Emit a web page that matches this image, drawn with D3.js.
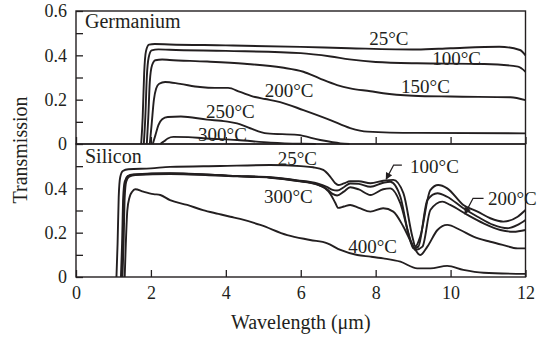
<!DOCTYPE html>
<html>
<head>
<meta charset="utf-8">
<script src="https://cdn.jsdelivr.net/npm/d3@7"></script>
<style>
  body { margin: 0; background: #fff; }
  svg { display: block; }
</style>
</head>
<body>
<div id="container"></div>
<script>
/* CONSTANTS AND GLOBALS */
const width = 537,
  height = 338,
  margin = { top: 11, bottom: 61, left: 76, right: 11.5 }
const ink = "#231f20"
const serif = "'Liberation Serif', 'Times New Roman', serif"

/* DATA : [wavelength (um), transmission] */
// Germanium
const ge25 = [[1.74,0],[1.78,0.12],[1.82,0.32],[1.87,0.42],[1.95,0.448],[2.1,0.451],[2.5,0.449],[4,0.445],[6,0.438],[7.3,0.432],[9.1,0.426],[10,0.432],[11.3,0.439],[11.85,0.424],[12,0.40]]
const ge100 = [[1.81,0],[1.85,0.12],[1.89,0.3],[1.94,0.39],[2.02,0.422],[2.2,0.427],[2.5,0.425],[4,0.42],[6,0.41],[6.8,0.395],[7.3,0.382],[8,0.37],[9.1,0.364],[10.9,0.361],[11.8,0.349],[12,0.326]]
const ge150 = [[1.89,0],[1.93,0.12],[1.97,0.28],[2.03,0.355],[2.12,0.378],[2.3,0.381],[2.5,0.379],[3.5,0.372],[4.5,0.362],[5.5,0.345],[6.07,0.326],[6.5,0.296],[6.97,0.266],[7.32,0.251],[7.86,0.238],[8.2,0.229],[9,0.218],[10,0.214],[11.6,0.211],[12,0.198]]
const ge200 = [[1.97,0],[2.02,0.09],[2.08,0.2],[2.14,0.25],[2.22,0.272],[2.38,0.28],[2.78,0.271],[3.31,0.257],[3.71,0.253],[4.06,0.253],[4.38,0.235],[4.78,0.212],[5.05,0.203],[5.45,0.189],[6.07,0.153],[6.79,0.108],[7.32,0.072],[7.78,0.056],[9.11,0.05],[12,0.048]]
const ge250 = [[2.05,0],[2.12,0.04],[2.2,0.085],[2.3,0.112],[2.45,0.122],[2.8,0.124],[3.5,0.11],[4.0,0.102],[4.3,0.093],[4.65,0.071],[5.1,0.048],[5.91,0.041],[6.52,0.018],[7.06,0.003],[7.3,0]]
const ge300 = [[2.25,0],[2.35,0.012],[2.45,0.025],[2.6,0.032],[3.0,0.031],[3.4,0.026],[4.3,0.018],[5.2,0.006],[6.0,0.001],[6.4,0]]

// Silicon
const si25 = [[1.08,0],[1.11,0.15],[1.14,0.36],[1.18,0.45],[1.25,0.478],[1.4,0.486],[2,0.49],[2.51,0.497],[3.85,0.501],[5.18,0.505],[6.0,0.5],[6.33,0.495],[6.6,0.483],[6.79,0.452],[6.92,0.423],[7.0,0.415],[7.15,0.422],[7.32,0.432],[7.55,0.432],[7.86,0.423],[8.2,0.434],[8.47,0.438],[8.74,0.378],[8.98,0.182],[9.06,0.137],[9.19,0.182],[9.46,0.392],[9.67,0.415],[9.91,0.40],[10.34,0.325],[10.72,0.295],[11.06,0.265],[11.41,0.25],[11.79,0.272],[12,0.302]]
const si100 = [[1.2,0],[1.23,0.15],[1.26,0.36],[1.3,0.43],[1.38,0.455],[1.52,0.463],[2.51,0.468],[4.3,0.456],[5.18,0.45],[5.91,0.436],[6.44,0.422],[6.71,0.405],[6.85,0.393],[6.97,0.39],[7.15,0.405],[7.32,0.422],[7.55,0.42],[7.86,0.407],[8.2,0.425],[8.39,0.43],[8.66,0.362],[8.87,0.198],[9.01,0.129],[9.14,0.137],[9.38,0.347],[9.65,0.378],[9.91,0.362],[10.34,0.31],[10.72,0.272],[11.14,0.235],[11.52,0.22],[11.79,0.235],[12,0.257]]
const si200 = [[1.22,0],[1.25,0.15],[1.28,0.36],[1.32,0.43],[1.4,0.455],[1.55,0.462],[2.51,0.467],[4.3,0.455],[5.18,0.449],[5.91,0.434],[6.44,0.418],[6.71,0.395],[6.85,0.375],[6.97,0.368],[7.15,0.385],[7.32,0.405],[7.55,0.395],[7.86,0.37],[8.2,0.396],[8.39,0.40],[8.66,0.332],[8.93,0.167],[9.06,0.122],[9.25,0.137],[9.46,0.302],[9.78,0.34],[9.99,0.325],[10.45,0.28],[10.88,0.242],[11.33,0.212],[11.68,0.204],[12,0.212]]
const si300 = [[1.24,0],[1.27,0.15],[1.3,0.36],[1.34,0.43],[1.42,0.452],[1.58,0.46],[2.51,0.465],[4.3,0.454],[5.18,0.448],[5.91,0.433],[6.44,0.417],[6.65,0.4],[6.79,0.375],[6.92,0.335],[7.0,0.312],[7.15,0.318],[7.32,0.325],[7.55,0.312],[7.86,0.295],[8.2,0.31],[8.47,0.295],[8.74,0.227],[9.01,0.137],[9.19,0.099],[9.38,0.137],[9.65,0.212],[9.91,0.235],[10.26,0.212],[10.61,0.182],[11.06,0.159],[11.41,0.144],[11.79,0.129],[12,0.129]]
const si400 = [[1.3,0],[1.33,0.15],[1.37,0.3],[1.43,0.36],[1.5,0.385],[1.58,0.396],[1.8,0.385],[2.07,0.374],[2.25,0.37],[2.51,0.347],[2.97,0.325],[3.39,0.302],[3.8,0.285],[4.12,0.272],[4.38,0.262],[4.92,0.235],[5.64,0.189],[6.25,0.167],[6.71,0.152],[7.06,0.122],[7.51,0.099],[7.86,0.092],[8.2,0.084],[8.66,0.069],[9.11,0.039],[9.46,0.039],[9.91,0.05],[10.34,0.032],[10.88,0.019],[12,0.014]]

// ticks
const xTicks = [0, 2, 4, 6, 8, 10, 12]
const yTicks = [0, 0.1, 0.2, 0.3, 0.4, 0.5, 0.6]
const yLabelsTop = [0, 0.2, 0.4, 0.6]
const yLabelsBottom = [0, 0.2, 0.4]

// curve labels: [text, wavelength, transmission]
const geLabels = [["25°C", 8.35, 0.447], ["100°C", 10.16, 0.356], ["150°C", 9.33, 0.23], ["200°C", 5.69, 0.212], ["250°C", 4.12, 0.117], ["300°C", 3.91, 0.014]]
const siLabels = [["25°C", 5.91, 0.505], ["300°C", 5.67, 0.334], ["400°C", 7.92, 0.108], ["100°C", 9.57, 0.469], ["200°C", 11.65, 0.325]]
// arrows from label to curve (wavelength, transmission)
const siArrows = [
  [[8.70, 0.505], [8.48, 0.505], [8.28, 0.441]],
  [[10.88, 0.355], [10.6, 0.355], [10.38, 0.284]]
]

/* SCALES */
const panelH = (height - margin.top - margin.bottom) / 2
const xScale = d3.scaleLinear().domain([0, 12]).range([margin.left, width - margin.right])
const yTop = d3.scaleLinear().domain([0, 0.6]).range([margin.top + panelH, margin.top])
const yBot = d3.scaleLinear().domain([0, 0.6]).range([margin.top + 2 * panelH, margin.top + panelH])

/* CREATE SVG ELEMENT */
const svg = d3.select("#container")
  .append("svg")
  .attr("width", width)
  .attr("height", height)
  .style("background-color", "#fff")

const fmt = d => d === 0 ? "0" : d.toFixed(1)

// AXES
function styleAxis(g) {
  g.select(".domain").remove()
  g.selectAll(".tick line").attr("stroke", ink).attr("stroke-width", 1.3)
  g.selectAll(".tick text").attr("fill", ink).attr("font-family", serif).attr("font-size", 18)
}

svg.append("g")
  .attr("transform", `translate(${margin.left},0)`)
  .call(d3.axisLeft(yTop).tickValues(yTicks).tickSizeInner(-7).tickSizeOuter(0).tickPadding(9)
    .tickFormat(d => yLabelsTop.some(v => Math.abs(v - d) < 1e-9) ? fmt(d) : ""))
  .call(styleAxis)

svg.append("g")
  .attr("transform", `translate(${margin.left},0)`)
  .call(d3.axisLeft(yBot).tickValues(yTicks.slice(0, -1)).tickSizeInner(-7).tickSizeOuter(0).tickPadding(9)
    .tickFormat(d => yLabelsBottom.some(v => Math.abs(v - d) < 1e-9) ? fmt(d) : ""))
  .call(styleAxis)

svg.append("g")
  .attr("transform", `translate(0,${yTop(0)})`)
  .call(d3.axisBottom(xScale).tickValues(xTicks).tickSizeInner(-7).tickSizeOuter(0).tickFormat(""))
  .call(styleAxis)

svg.append("g")
  .attr("transform", `translate(0,${yBot(0)})`)
  .call(d3.axisBottom(xScale).tickValues(xTicks).tickSizeInner(-7).tickSizeOuter(0).tickPadding(9))
  .call(styleAxis)

// FRAMES
;[yTop, yBot].forEach(y => {
  svg.append("rect")
    .attr("x", xScale(0))
    .attr("y", y(0.6))
    .attr("width", xScale(12) - xScale(0))
    .attr("height", y(0) - y(0.6))
    .attr("fill", "none")
    .attr("stroke", ink)
    .attr("stroke-width", 1.4)
})

// LINES
const lineTop = d3.line().x(d => xScale(d[0])).y(d => yTop(d[1])).curve(d3.curveMonotoneX)
const lineBot = d3.line().x(d => xScale(d[0])).y(d => yBot(d[1])).curve(d3.curveMonotoneX)

svg.append("g").selectAll("path")
  .data([ge25, ge100, ge150, ge200, ge250, ge300])
  .join("path")
  .attr("d", lineTop)
  .attr("fill", "none")
  .attr("stroke", ink)
  .attr("stroke-width", 1.9)

svg.append("g").selectAll("path")
  .data([si25, si100, si200, si300, si400])
  .join("path")
  .attr("d", lineBot)
  .attr("fill", "none")
  .attr("stroke", ink)
  .attr("stroke-width", 1.9)

// ARROWS
svg.append("defs").append("marker")
  .attr("id", "head")
  .attr("viewBox", "0 0 10 10")
  .attr("refX", 9).attr("refY", 5)
  .attr("markerWidth", 9).attr("markerHeight", 7)
  .attr("markerUnits", "userSpaceOnUse")
  .attr("orient", "auto")
  .append("path")
  .attr("d", "M0,0L10,5L0,10z")
  .attr("fill", ink)

svg.append("g").selectAll("path")
  .data(siArrows)
  .join("path")
  .attr("d", d3.line().x(d => xScale(d[0])).y(d => yBot(d[1])))
  .attr("fill", "none")
  .attr("stroke", ink)
  .attr("stroke-width", 1.3)
  .attr("marker-end", "url(#head)")

// CURVE LABELS
svg.append("g").selectAll("text")
  .data(geLabels)
  .join("text")
  .attr("x", d => xScale(d[1]))
  .attr("y", d => yTop(d[2]))
  .attr("text-anchor", "middle")
  .attr("font-family", serif)
  .attr("font-size", 19)
  .attr("fill", ink)
  .text(d => d[0])

svg.append("g").selectAll("text")
  .data(siLabels)
  .join("text")
  .attr("x", d => xScale(d[1]))
  .attr("y", d => yBot(d[2]))
  .attr("text-anchor", "middle")
  .attr("font-family", serif)
  .attr("font-size", 19)
  .attr("fill", ink)
  .text(d => d[0])

// PANEL NAMES
svg.append("text")
  .attr("x", xScale(0.24))
  .attr("y", yTop(0.523))
  .attr("font-family", serif)
  .attr("font-size", 20)
  .attr("fill", ink)
  .text("Germanium")

svg.append("text")
  .attr("x", xScale(0.24))
  .attr("y", yBot(0.514))
  .attr("font-family", serif)
  .attr("font-size", 20)
  .attr("fill", ink)
  .text("Silicon")

// AXES LABELS
svg.append("text")
  .attr("text-anchor", "middle")
  .attr("x", xScale(6))
  .attr("y", 329)
  .attr("font-family", serif)
  .attr("font-size", 20)
  .attr("fill", ink)
  .text("Wavelength (μm)")

svg.append("text")
  .attr("text-anchor", "middle")
  .attr("transform", "rotate(-90)")
  .attr("x", -150)
  .attr("y", 27)
  .attr("font-family", serif)
  .attr("font-size", 20)
  .attr("fill", ink)
  .text("Transmission")
</script>
</body>
</html>
